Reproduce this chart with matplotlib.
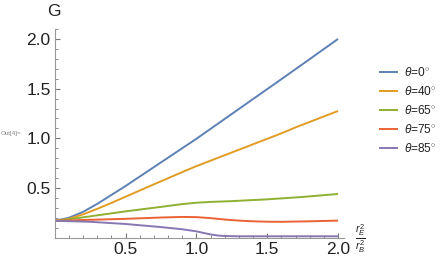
import numpy as np
import matplotlib
matplotlib.use("Agg")
import matplotlib.pyplot as plt
from matplotlib.ticker import MultipleLocator

plt.rcParams['font.family'] = ['Liberation Sans', 'DejaVu Sans']
plt.rcParams['mathtext.fontset'] = 'custom'
plt.rcParams['mathtext.rm'] = 'Liberation Sans'
plt.rcParams['mathtext.it'] = 'Liberation Sans:italic'

# values (x = rE^2/rB^2)
x_blue = [0, 0.1, 0.2, 0.3, 0.4, 0.5, 0.6, 0.7, 0.8, 0.9, 1.0, 1.2, 1.4, 1.6, 1.8, 2.0]
g_blue = [0.17, 0.2, 0.26, 0.34, 0.43, 0.52, 0.615, 0.71, 0.805, 0.9, 0.995, 1.195, 1.395,
          1.595, 1.797, 2.0]

x_orange = [0, 0.1, 0.2, 0.3, 0.4, 0.5, 0.6, 0.7, 0.8, 0.9, 1.0, 1.1, 1.2, 1.3, 1.4, 1.5,
            1.6, 1.7, 1.8, 1.9, 2.0]
g_orange = [0.17, 0.19, 0.235, 0.29, 0.35, 0.412, 0.475, 0.537, 0.598, 0.66, 0.72, 0.775,
            0.83, 0.885, 0.94, 0.995, 1.05, 1.11, 1.165, 1.22, 1.275]

x_green = [0, 0.1, 0.25, 0.5, 0.75, 0.9, 1.0, 1.1, 1.25, 1.5, 1.75, 2.0]
g_green = [0.17, 0.185, 0.215, 0.265, 0.31, 0.338, 0.352, 0.36, 0.368, 0.386, 0.41, 0.44]

x_red = [0, 0.25, 0.5, 0.75, 0.9, 1.0, 1.1, 1.2, 1.3, 1.4, 1.5, 1.6, 1.8, 2.0]
g_red = [0.17, 0.18, 0.19, 0.203, 0.209, 0.207, 0.197, 0.183, 0.172, 0.165, 0.161, 0.16,
         0.165, 0.172]

x_purple = [0, 0.25, 0.5, 0.75, 0.9, 1.0, 1.05, 1.1, 1.15, 1.2, 1.3, 1.4, 2.0]
g_purple = [0.17, 0.16, 0.138, 0.107, 0.085, 0.064, 0.048, 0.033, 0.022, 0.017, 0.014,
            0.014, 0.014]

labels = [r'$\theta$=0$^{\circ}$', r'$\theta$=40$^{\circ}$', r'$\theta$=65$^{\circ}$',
          r'$\theta$=75$^{\circ}$', r'$\theta$=85$^{\circ}$']
colors = ['#5E81B5', '#E19C24', '#8FB032', '#EB6235', '#8778B3']


def main():
    fig = plt.figure(figsize=(4.43, 2.63), dpi=100)
    ax = fig.add_axes([54.7 / 443, 25.3 / 263, 289 / 443, 208.7 / 263])

    series = [(x_blue, g_blue), (x_orange, g_orange), (x_green, g_green),
              (x_red, g_red), (x_purple, g_purple)]
    for (xs, gs), c, lab in zip(series, colors, labels):
        ax.plot(xs, gs, color=c, lw=1.4, label=lab, solid_capstyle='butt')

    ax.set_xlim(0, 2.04)
    ax.set_ylim(0, 2.1)
    for s in ['top', 'right']:
        ax.spines[s].set_visible(False)
    for s in ['left', 'bottom']:
        ax.spines[s].set_color('#999999')
        ax.spines[s].set_linewidth(0.8)

    ax.xaxis.set_minor_locator(MultipleLocator(0.1))
    ax.yaxis.set_minor_locator(MultipleLocator(0.1))
    ax.set_xticks([0.5, 1.0, 1.5, 2.0])
    ax.set_yticks([0.5, 1.0, 1.5, 2.0])
    ax.set_xticklabels(['0.5', '1.0', '1.5', '2.0'])
    ax.set_yticklabels(['0.5', '1.0', '1.5', '2.0'])
    ax.tick_params(which='both', direction='in', color='#777777', labelsize=12.5,
                   labelcolor='#222222')
    ax.tick_params(which='major', length=3.5, width=0.8, pad=3)
    ax.tick_params(which='minor', length=2, width=0.6)

    fig.text(54 / 443, 1 - 12 / 263, 'G', ha='center', va='center', fontsize=12.5,
             color='#222222')
    fig.text(360 / 443, 1 - 239 / 263, r'$\frac{r_E^2}{r_B^2}$', ha='center', va='center',
             fontsize=11, color='#222222')
    fig.text(1 / 443, 1 - 133 / 263, 'Out[4]=', ha='left', va='center', fontsize=4.5,
             color='#888888')

    leg = ax.legend(loc='upper left', bbox_to_anchor=(379 / 443, 1 - 66 / 263),
                    bbox_transform=fig.transFigure, frameon=False, fontsize=8.6,
                    handlelength=1.55, handletextpad=0.55, labelspacing=0.5,
                    borderpad=0, borderaxespad=0)
    for t in leg.get_texts():
        t.set_color('#222222')

    fig.savefig('out.png', dpi=100)


if __name__ == "__main__":
    main()
